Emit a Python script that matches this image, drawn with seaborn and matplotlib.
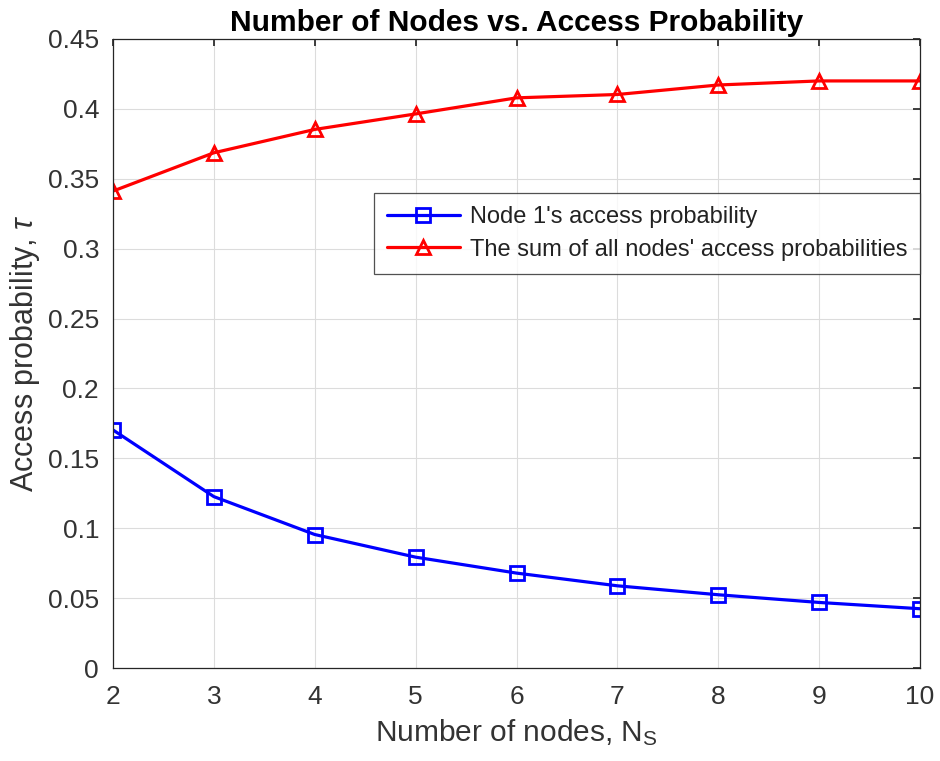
import matplotlib
matplotlib.use("Agg")
import matplotlib.pyplot as plt
import seaborn as sns
import pandas as pd

# Data
num_nodes = [2, 3, 4, 5, 6, 7, 8, 9, 10]
node1_prob = [0.1703, 0.1226, 0.0955, 0.0793, 0.0679, 0.0588, 0.0524, 0.0469, 0.0424]
sum_prob = [0.3412, 0.3686, 0.3853, 0.3964, 0.4079, 0.4103, 0.4171, 0.4200, 0.4200]
series_names = ["Node 1's access probability",
                "The sum of all nodes' access probabilities"]
x_ticks = [2, 3, 4, 5, 6, 7, 8, 9, 10]
y_ticks = [0, 0.05, 0.1, 0.15, 0.2, 0.25, 0.3, 0.35, 0.4, 0.45]
y_tick_labels = ["0", "0.05", "0.1", "0.15", "0.2", "0.25", "0.3", "0.35", "0.4", "0.45"]

sns.set_theme(style="white")
plt.rcParams["font.family"] = ["Liberation Sans", "DejaVu Sans"]
plt.rcParams["mathtext.fontset"] = "custom"
plt.rcParams["mathtext.rm"] = "Liberation Sans"
plt.rcParams["mathtext.it"] = "Liberation Sans:italic"

df = pd.DataFrame({
    "N": num_nodes * 2,
    "tau": node1_prob + sum_prob,
    "series": [series_names[0]] * len(num_nodes) + [series_names[1]] * len(num_nodes),
})

fig = plt.figure(figsize=(9.4, 7.61), dpi=100)
ax = fig.add_axes([113 / 940, 1 - 668 / 761, (920 - 113) / 940, (668 - 39) / 761])

sns.lineplot(data=df, x="N", y="tau", hue="series", style="series",
             palette={series_names[0]: "#0000ff", series_names[1]: "#ff0000"},
             markers={series_names[0]: "s", series_names[1]: "^"},
             dashes=False, linewidth=2.3, markersize=10,
             markerfacecolor="none", markeredgewidth=2.0, ax=ax)

for line in ax.lines:
    line.set_markerfacecolor("none")
    line.set_markeredgecolor(line.get_color())

text_col = "#333333"
ax.set_xlim(2, 10)
ax.set_ylim(0, 0.45)
ax.set_xticks(x_ticks)
ax.set_yticks(y_ticks)
ax.set_yticklabels(y_tick_labels)
ax.tick_params(axis="both", which="both", direction="in", top=True, right=True,
               labelsize=19, length=5, color="#262626", labelcolor=text_col)
ax.tick_params(axis="y", pad=10)
ax.tick_params(axis="x", pad=12)
ax.grid(True, color="#dcdcdc", linewidth=0.8)
for sp in ax.spines.values():
    sp.set_color("#262626")
    sp.set_linewidth(0.9)

ax.set_xlabel(r"Number of nodes, N$_{\mathrm{S}}$", fontsize=21.5, color=text_col, labelpad=6)
ax.set_ylabel(r"Access probability, $\tau$", fontsize=22, color=text_col, labelpad=4)
ax.set_title("Number of Nodes vs. Access Probability", fontsize=21.5, fontweight="bold",
             color="black", pad=6)

handles, labels = ax.get_legend_handles_labels()
leg = ax.legend(handles, labels, loc="upper right", bbox_to_anchor=(1.0, 0.755),
                borderaxespad=0, fontsize=17, frameon=True, fancybox=False,
                edgecolor="#262626", handlelength=3.1, handletextpad=0.4,
                borderpad=0.55, labelspacing=0.45, labelcolor="#222222")
leg.get_frame().set_linewidth(0.9)

fig.savefig("out.png", dpi=100)
